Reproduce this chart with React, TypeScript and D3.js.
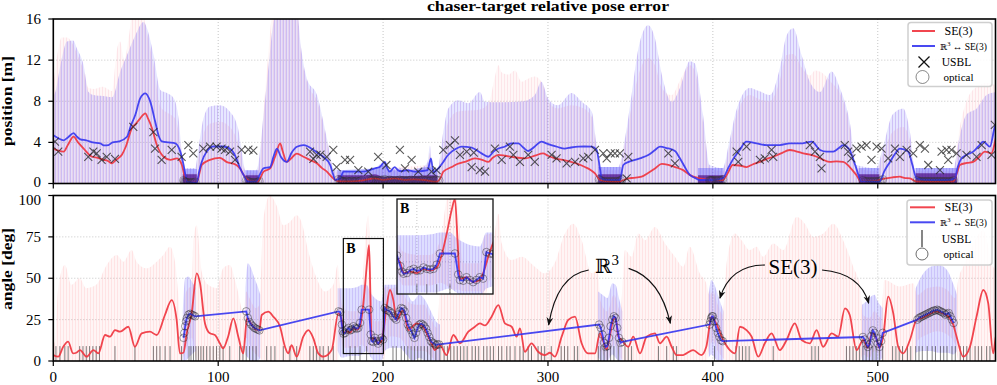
import React from "react";
import * as d3 from "d3";

type P2 = [number, number];
type P3 = [number, number, number];

// ---------- position panel [m] ----------
const posRedLine: P2[] = [
  [0, 3.4], [3, 3.2], [6.3, 3.1], [9, 3.8], [12.3, 4.55], [15, 4.0], [18.4, 3.4], [23.5, 2.6], [27, 2.5], [30.5, 2.3],
  [33, 2.2], [35.6, 1.96], [38, 2.3], [41.6, 2.8], [44, 3.6], [47.7, 5.4], [50, 5.8], [52.7, 6.34], [55.8, 6.83], [57.5, 6.3],
  [59.8, 5.4], [62.8, 3.74], [66.9, 2.6], [71, 2.3], [75, 2.45], [78, 1.8], [79.5, 0.8], [81, 0.2], [87, 0.15], [88.5, 0.9],
  [90, 1.8], [95, 2.3], [101, 2.5], [105, 2.1], [111, 1.8], [113.5, 1.4], [115.4, 0.83], [119.4, 0.25], [124, 0.2], [127.5, 1.15],
  [131.5, 1.47], [134.5, 2.6], [137.6, 3.9], [139, 3.2], [141.6, 2.1], [144, 2.4], [147.7, 2.9], [151.7, 2.6], [155.5, 2.3], [159.8, 1.96],
  [163, 1.5], [165.9, 1.15], [168.5, 0.7], [171, 0.34], [174, 0.2], [180, 0.2], [188, 0.3], [195, 0.5], [200, 0.35], [207, 0.5],
  [213, 0.35], [219, 0.4], [225, 0.34], [232.5, 0.18], [235, 0.6], [236.5, 1.15], [241.6, 1.6], [245, 1.9], [249.6, 2.1], [255.7, 2.45],
  [260, 2.3], [263.8, 2.1], [266.5, 2.5], [269.9, 2.78], [274, 2.7], [278, 2.6], [286, 2.45], [292, 2.7], [297, 2.93], [300, 2.7],
  [304.2, 2.45], [309, 2.3], [314, 2.1], [318, 1.9], [322.4, 1.6], [326, 1.3], [328.5, 0.98], [331.5, 0.34], [336, 0.2], [342.6, 0.18],
  [348.7, 0.5], [352, 0.55], [356.8, 0.66], [360.5, 1.0], [364.9, 1.47], [369, 1.9], [373, 1.8], [377, 1.6], [382, 1.3], [386, 0.83],
  [392, 0.5], [398, 0.35], [406, 0.34], [409, 1.0], [412, 1.8], [416, 1.75], [420.4, 1.6], [424, 1.85], [428.5, 2.1], [432, 2.35],
  [436.6, 2.6], [441, 2.9], [446.7, 3.26], [450, 3.15], [454.8, 2.93], [459, 2.8], [463, 2.6], [467, 2.3], [471, 2.1], [475, 2.15],
  [479, 2.1], [483, 1.6], [487, 0.83], [490, 0.18], [495, 0.2], [499, 0.25], [502, 0.4], [505, 0.5], [509, 0.6], [513.4, 0.66],
  [516, 0.55], [519.5, 0.5], [523.5, 0.18], [535, 0.15], [545.8, 0.18], [548, 1.0], [549.8, 1.8], [554, 2.0], [557.9, 2.1], [561, 2.5],
  [565, 3.1], [569, 2.93], [571, 4.0], [572, 4.7],
];

const posBlueLine: P2[] = [
  [0, 4.7], [3, 4.4], [6.3, 4.2], [9, 4.5], [12.3, 4.9], [14, 4.6], [16.4, 4.3], [20, 4.2], [24, 4.0], [28.5, 3.9],
  [31, 3.7], [33.5, 3.74], [36, 4.0], [40, 4.1], [44.7, 4.55], [47, 5.6], [49.7, 6.66], [52.7, 8.28], [55.8, 8.77], [58.8, 7.96],
  [61.8, 6.0], [64, 4.6], [65.9, 4.1], [70, 4.0], [74, 3.9], [77, 3.1], [79, 1.8], [80.5, 0.5], [81, 0.18], [87, 0.1],
  [88.5, 1.2], [90, 2.1], [93, 3.1], [97, 3.6], [103, 3.6], [108, 3.26], [111, 2.45], [113, 1.6], [115.4, 0.83], [118, 0.2],
  [123, 0.2], [125, 0.8], [127.5, 1.47], [131.5, 1.6], [133.5, 2.6], [135.6, 3.4], [138, 2.6], [141.6, 2.1], [144.5, 3.0], [147.7, 3.58],
  [151.7, 3.74], [154.5, 3.6], [157.8, 3.26], [161, 2.9], [163.8, 2.6], [167.9, 1.8], [169.5, 1.0], [171, 0.34], [174, 0.5], [176, 1.15],
  [182, 1.15], [187, 1.15], [192, 1.3], [195, 1.47], [198, 1.6], [201, 2.1], [202.5, 1.5], [204, 1.15], [207, 1.6], [209, 1.3],
  [211, 1.2], [215, 1.3], [219, 1.15], [223, 1.2], [227, 1.3], [229, 2.45], [230.5, 1.1], [233, 1.4], [236.5, 2.1], [239, 2.7],
  [241.6, 3.1], [244.5, 3.4], [247.6, 3.58], [253.7, 3.5], [257, 3.2], [259.7, 2.93], [263.8, 2.6], [267, 3.1], [269.9, 3.4], [274, 3.6],
  [277.9, 3.9], [282, 3.9], [285, 3.5], [288, 3.16], [292, 3.6], [296, 4.07], [299, 3.9], [302, 3.74], [306, 3.55], [310, 3.4],
  [314, 3.5], [318.4, 3.58], [322, 3.6], [326.5, 3.58], [329.5, 3.26], [331.5, 1.47], [332.5, 0.5], [336, 0.35], [343.6, 0.34], [345.7, 1.8],
  [349, 2.1], [352.7, 2.3], [356.8, 2.5], [360.8, 2.78], [364.5, 3.2], [367.9, 3.58], [372, 3.45], [377, 3.16], [380, 2.45], [383, 1.6],
  [386, 0.83], [389, 0.55], [392, 0.34], [400, 0.34], [406, 0.5], [409, 1.4], [412, 2.3], [416, 3.2], [420.4, 4.07], [426.5, 3.9],
  [432.6, 3.74], [440.6, 3.74], [446.7, 3.9], [453, 3.9], [460, 4.07], [465, 3.26], [469, 3.1], [473, 3.1], [476, 3.4], [479, 3.74],
  [483, 3.26], [485, 2.4], [487, 1.47], [490, 0.18], [501, 0.18], [504, 1.2], [507.4, 2.1], [510.5, 2.9], [513.4, 3.4], [518.5, 3.1],
  [521, 1.8], [523.5, 0.5], [533.6, 0.34], [541.7, 0.34], [546.8, 0.5], [548.5, 1.6], [550.8, 2.45], [554, 2.8], [557.9, 3.1], [561, 3.6],
  [564, 4.07], [568, 3.58], [571, 5.5], [572, 5.8],
];

// upper edge of the uncertainty bars
const posRedEnv: P2[] = [
  [0, 9.5], [3, 13], [5, 14.2], [8.3, 14.2], [12, 13.5], [14.4, 12.6], [18.4, 11], [21.4, 9.3], [25, 9.2], [30, 9.4],
  [35.6, 9.0], [38.6, 13.0], [40.5, 13.8], [43, 12.0], [46, 14.5], [48, 16.5], [54, 16.5], [57, 14.5], [60.8, 11.5], [64.9, 7.5],
  [70, 6.8], [74, 6.3], [76, 5.0], [78, 2.5], [79, 1.0], [86, 1.0], [88, 2.5], [91, 4.8], [95, 5.8], [101, 6.0],
  [107, 5.5], [112, 4.0], [114.4, 2.5], [116.4, 1.0], [123, 1.0], [125, 2.0], [127.5, 7.0], [130.6, 13], [133, 16.5], [148, 16.5],
  [150, 13], [154, 9.8], [160, 8.0], [166, 4.0], [170, 1.2], [188, 1.0], [201, 1.5], [227, 1.8], [228.4, 3.0], [229.5, 1.0],
  [233, 1.0], [236.5, 3.5], [239.5, 6.0], [245.6, 7.0], [258.7, 7.2], [264, 7.8], [268, 10.5], [269.9, 11.5], [272, 10.8], [276, 10.6],
  [280, 11.0], [284, 9.9], [288, 10.2], [292, 10.4], [297, 9.6], [300, 8.0], [306, 7.3], [314, 7.6], [320.4, 7.4], [326.5, 6.5],
  [329.5, 3.2], [331.5, 1.3], [342.6, 1.3], [346.7, 4], [350.7, 7.5], [354.8, 10.5], [360.8, 12.2], [364.9, 11.5], [369, 9.3], [375, 8.6],
  [380, 10.0], [386, 11.5], [389, 11], [394, 6.0], [398, 1.5], [406, 1.2], [410, 3.5], [414, 6.5], [422.4, 8.6], [428, 8.2],
  [434.6, 8.0], [440.6, 10], [444.7, 12.5], [448.7, 12.6], [453.8, 11.3], [458.8, 10.5], [462, 11.0], [466, 10.8], [472, 9.8], [477, 8.8],
  [483, 5.5], [487, 1.5], [499, 1.2], [503, 2.8], [509, 5.0], [515.4, 5.5], [519.5, 4.2], [522.5, 1.2], [545.8, 1.2], [549.8, 5.5],
  [553.8, 8.0], [560, 9.4], [566, 9.8], [572, 9.5],
];

const posBlueEnv: P2[] = [
  [0, 8.5], [1.2, 8.9], [4.3, 11.5], [8.3, 13.8], [12, 13.9], [14.4, 13.1], [18.4, 11.5], [21.4, 8.9], [24.5, 8.6], [30, 8.5],
  [35.6, 8.4], [40.6, 10.9], [44.7, 12.5], [49.7, 14.4], [54.8, 15.7], [56.8, 15.1], [60.8, 12.5], [64.9, 9.1], [68.9, 8.8], [73, 8.3],
  [76, 6.3], [78, 2.8], [79, 1.5], [86, 1.5], [88, 3.4], [91, 6.3], [95, 7.5], [101, 7.6], [107, 7], [112, 5.4],
  [114.4, 3.1], [116.4, 1.3], [123, 1.3], [124.5, 2.1], [127.5, 6.7], [130.6, 11.5], [133.6, 15.7], [136, 16.5], [148, 16.5], [149.8, 13.8],
  [153.8, 10.2], [159.9, 8.6], [165.9, 4.4], [170, 1.5], [174, 1.3], [188, 1.2], [195, 1.5], [201, 2.1], [204, 1.3], [210, 1.5],
  [219, 1.2], [227, 2.1], [228.4, 3.7], [229.5, 1.3], [233, 1.3], [236.5, 5.0], [239.5, 7.3], [245.6, 8.1], [251.7, 7.8], [258.7, 8.9],
  [261.8, 7.96], [270, 7.9], [285, 8.0], [292, 8.6], [296, 9.9], [300, 8.3], [306, 7.6], [314.3, 8.8], [320.4, 7.96], [326.5, 7],
  [329.5, 3.74], [331.5, 1.6], [342.6, 1.6], [346.7, 4.4], [350.7, 8.6], [354.8, 13.1], [360.8, 15.4], [364.9, 14.1], [369, 10.6], [375, 7.96],
  [380, 9.3], [386, 11.9], [389, 11.7], [394, 6.7], [398, 1.8], [406, 1.5], [410, 4.1], [414, 7], [422.4, 9.3], [428, 9.0],
  [434.6, 8.6], [440.6, 11.2], [444.7, 14.4], [448.7, 15.1], [453.8, 12.5], [458.8, 9.9], [465, 8.9], [472, 10.9], [477, 9.3], [483, 6],
  [487, 1.8], [499, 1.5], [503, 3.4], [509, 6.7], [515.4, 7.3], [519.5, 5], [522.5, 1.5], [545.8, 1.5], [549.8, 4.7], [553.8, 6.7],
  [560, 7.3], [566, 8.6], [572, 8.9],
];

// optical stretches in the position panel: [t, inner, outer]
const posOpticalBand: P3[][] = [
  [[78.5, 0.9, 1.4], [87, 0.9, 1.4]],
  [[116.5, 0.8, 1.3], [124.5, 0.8, 1.3]],
  [[172.5, 0.8, 1.3], [189, 0.8, 1.4], [195, 0.9, 1.5], [201, 0.6, 1.9], [204, 0.7, 1.3], [215, 0.7, 1.3], [227, 0.8, 1.6], [233, 0.8, 1.3]],
  [[330.5, 0.9, 1.6], [344.5, 0.9, 1.6]],
  [[391, 0.8, 1.5], [406.5, 0.8, 1.5]],
  [[488.5, 0.9, 1.5], [501, 0.9, 1.5]],
  [[523, 1.0, 1.5], [548, 1.0, 1.5]],
];

const posUsbl: P2[] = [
  [1, 4.07], [3, 3.1], [21.2, 2.6], [24.3, 3.1], [26.3, 2.93], [29.3, 2.3], [32.4, 2.6], [37.4, 2.4], [48.5, 5.5], [60.7, 5.0],
  [61.7, 3.4], [65.7, 2.3], [71.8, 3.26], [77.8, 2.6], [81.9, 3.74], [84.9, 2.93], [91, 3.4], [95, 3.58], [99, 3.58], [102, 3.4],
  [104.1, 3.26], [107.2, 3.1], [110.2, 2.3], [114.2, 3.26], [118.3, 3.3], [121.3, 3.2], [155.7, 3.1], [157.7, 2.4], [159.7, 2.78], [162, 2.8],
  [165.8, 2.6], [169.8, 3.26], [171.8, 1.6], [176.9, 2.3], [180, 2.3], [185, 1.3], [191, 1.15], [197, 2.6], [202, 1.8], [210.2, 3.26],
  [213.3, 1.47], [217.3, 2.3], [221.3, 1.15], [229.4, 1.15], [232.5, 1.3], [236.5, 3.26], [240.5, 3.74], [243.6, 4.2], [246.6, 2.78], [250.7, 3.1],
  [253.7, 1.6], [255, 3.0], [258.7, 1.3], [261.8, 1.15], [267.8, 3.4], [271.9, 2.3], [276.9, 3.58], [279, 2.78], [283, 2.1], [288, 2.78],
  [292, 2.1], [302.2, 2.78], [305.2, 2.45], [311.3, 1.96], [316.4, 2.1], [321.4, 2.45], [324.4, 2.6], [328.5, 3.26], [333.5, 2.93], [335.6, 2.45],
  [338, 2.93], [340.6, 2.93], [343.6, 2.93], [347.7, 0.5], [348.7, 2.6], [373, 2.93], [377, 1.96], [414.4, 3.1], [415.4, 2.1], [420.4, 3.58],
  [428.5, 2.3], [431.5, 2.45], [435.6, 3.26], [436.6, 2.6], [458.8, 3.74], [461.9, 3.1], [464.9, 2.6], [465.9, 1.47], [480, 3.74], [482, 3.1],
  [484, 2.45], [487.1, 3.4], [490.2, 3.58], [493.2, 3.74], [496.2, 2.3], [499.3, 3.58], [502.3, 3.4], [506.3, 2.45], [510.4, 3.4], [513.4, 2.6],
  [517.5, 3.26], [521.5, 2.93], [525.5, 3.74], [528.6, 3.4], [530.6, 1.8], [537.7, 1.3], [538.7, 3.1], [541.7, 3.26], [542.7, 2.3], [544.7, 3.26],
  [547.8, 2.93], [553.8, 2.78], [559.9, 2.6], [563, 3.74], [569, 2.78], [571, 5.7],
];

// ---------- angle panel [deg] ----------
const angRedLine: P2[] = [
  [0, 3.6], [3, 2.6], [6, 8.6], [9, 11.7], [12, 4.6], [14, 5], [16.2, 6.6], [20.2, 2.6], [24.3, 6.6], [27.3, 4.6],
  [31.4, 15.7], [34.4, 14.7], [37.4, 18.7], [40.4, 17.7], [45.5, 20.7], [49.5, 8.6], [53.6, 16.7], [58.6, 17.7], [62.7, 15.7], [67.7, 27.8],
  [71.8, 36.8], [74.8, 24.8], [76.8, 4.6], [78.9, 5], [80.9, 16.7], [83.9, 28.8], [87, 53], [89, 46.9], [92, 22.7], [95, 16.7],
  [98, 15.7], [101, 10.7], [103, 7.6], [106, 14.7], [109.2, 25.8], [112.2, 14.7], [115.2, 4.6], [117.5, 26], [119, 24], [121, 21],
  [123, 19], [125, 19], [126.4, 27.8], [130.4, 29.8], [133.4, 26.8], [137.5, 20.7], [140.5, 8.6], [142.5, 4.6], [144.5, 9.6], [147.6, 2.6],
  [151.6, 14.7], [154.7, 18.7], [157.7, 13.7], [160.7, 4.6], [163.8, 2.6], [168.8, 6.6], [172.9, 28.8], [174.9, 24.8], [176, 17], [178, 18],
  [180, 17], [182, 20], [184, 19], [186, 21], [187.5, 30], [189, 45], [190.5, 62], [191.5, 70], [192.3, 40], [193, 12.7],
  [195, 14], [197, 10.7], [199, 12], [200, 16.7], [202, 31.8], [204.2, 42.9], [206.2, 36.8], [208.2, 24.8], [212.2, 30.8], [215.3, 18.7],
  [220.3, 22.7], [224.4, 20.7], [226.4, 16.7], [229.4, 10.7], [231.4, 6.6], [234.5, 9.6], [238.5, 3.6], [242.6, 15.7], [246.6, 10.7], [251.7, 17.7],
  [255.7, 20.7], [258.7, 22.7], [261.8, 21.5], [265.8, 26.8], [269.9, 33.8], [273.9, 22.7], [278, 20.7], [281, 14.7], [283, 19.7], [286, 5.6],
  [290, 10.7], [294, 5.6], [298, 3.6], [301.2, 5.0], [304.2, 2.6], [308.3, 14.7], [312.3, 24.8], [316.4, 26.8], [320.4, 10.7], [324.4, 4.6],
  [328.5, 4.6], [331.5, 16.7], [333.5, 12], [335.5, 7], [337.5, 15], [339.6, 25], [341, 26], [342.6, 15], [344.6, 12.7], [348.7, 8.6],
  [351.7, 14.7], [355.8, 4.6], [359.8, 14.7], [364.9, 16.7], [367.9, 10.7], [372, 14.7], [375, 8.6], [378, 3.6], [382, 3.6], [384, 4.6],
  [388, 6.6], [393, 3.6], [396, 8.6], [399.2, 26.8], [402, 22.7], [406.3, 12.7], [410.3, 6.6], [413.4, 4.6], [416.4, 20.7], [420.4, 18.7],
  [423.5, 14.7], [427.5, 2.6], [431.5, 10.7], [435.6, 16.7], [440.6, 6.6], [444.7, 12.7], [449.7, 22.7], [453.8, 12.7], [458.8, 10.7], [462.9, 18.7],
  [466.9, 8.6], [472, 16.7], [476, 14.7], [480.1, 31.8], [483, 27.8], [487.1, 6.6], [491.2, 12.7], [494, 8], [496.5, 17], [499, 14],
  [501, 8], [503.3, 14.7], [506.3, 38.9], [509.4, 28.8], [512.4, 8.6], [515.4, 4.6], [519.5, 12.7], [523.5, 24.8], [527, 26], [531, 28],
  [535, 30], [539, 29], [542, 27.5], [545.8, 22], [547.8, 14.7], [551.8, 2.6], [555.9, 8.6], [559.9, 26.8], [564, 42.9], [567, 34.8],
  [570, 4.6], [571.6, 14.7], [572, 16],
];

// SE(3) angle uncertainty: [t, low, high]
const angRedBand: P3[] = [
  [0, 0, 10], [1, 0, 12], [3, 0, 44], [7, 0, 58], [11, 0, 46], [16, 0, 50], [20, 0, 44], [26, 0, 46], [32.4, 0, 58], [38.4, 0, 64],
  [42.5, 0, 60], [47.5, 0, 67], [50.5, 0, 60], [56.6, 0, 56], [62.7, 0, 60], [66.7, 0, 64], [70.7, 0, 69], [73.8, 0, 60], [75.8, 0, 40], [77.9, 0, 12],
  [79, 3, 25], [80, 6, 40], [82, 12, 44], [84, 14, 45], [85, 10, 74], [87, 0, 82], [90, 0, 54], [94, 0, 46], [99, 0, 44], [103, 0, 56],
  [107, 0, 58], [111, 0, 46], [115.3, 0, 30], [117, 14, 42], [119, 10, 38], [121, 6, 34], [123, 4, 32], [125, 2, 34], [127.4, 0, 86], [131.4, 0, 100],
  [135.4, 0, 94], [139.5, 0, 82], [143.5, 0, 84], [147.6, 0, 88], [150.5, 0, 84], [154.7, 0, 66], [159.7, 0, 50], [164.8, 0, 42], [169.8, 0, 46], [172.5, 0, 58],
  [174, 14, 42], [176, 8, 32], [180, 8, 30], [184, 8, 30], [187, 10, 40], [189, 8, 70], [191, 5, 88], [192.5, 5, 60], [194, 4, 24], [199, 4, 24],
  [200.5, 0, 44], [202, 12, 45], [205, 15, 44], [210, 14, 45], [215, 8, 36], [220, 6, 34], [225, 6, 34], [228, 4, 28], [233, 0, 20], [235.5, 0, 59],
  [241.6, 0, 53], [249.6, 0, 61], [257.7, 0, 53], [265.8, 0, 63], [269.9, 0, 89], [272, 0, 71], [278, 0, 61], [284, 0, 63], [292, 0, 57], [298, 0, 53],
  [304, 0, 59], [310.3, 0, 77], [315.3, 0, 83], [320.4, 0, 73], [326.5, 0, 53], [330, 0, 55], [332, 6, 36], [336, 0, 30], [340, 10, 40], [344, 2, 30],
  [346.7, 0, 67], [350.7, 0, 63], [354.8, 0, 77], [358.8, 0, 73], [364.9, 0, 81], [371, 0, 71], [377, 0, 63], [382, 0, 57], [386, 0, 69], [392, 0, 53],
  [396, 0, 47], [398, 8, 40], [400, 12, 42], [403, 6, 34], [406, 2, 28], [408.3, 0, 59], [413.4, 0, 77], [417.4, 0, 73], [422.4, 0, 67], [426.5, 0, 69],
  [430.5, 0, 63], [436.6, 0, 71], [442.7, 0, 67], [450.8, 0, 87], [455.8, 0, 83], [460.9, 0, 75], [466.9, 0, 77], [473, 0, 83], [479, 0, 73], [485.1, 0, 57],
  [489.2, 0, 45], [491, 4, 28], [495, 2, 26], [498, 6, 30], [502, 2, 26], [504, 0, 49], [513.4, 0, 45], [521.5, 0, 47], [524, 12, 40], [530, 16, 44],
  [536, 18, 45], [542, 16, 43], [547, 10, 38], [549, 0, 50], [551.8, 0, 57], [557.9, 0, 71], [564, 0, 79], [570, 0, 57], [572, 0, 55],
];

// R3 <-> SE(3) angle uncertainty, only where optical fixes exist
const angBlueBand: P3[][] = [
  [[78.5, 0, 30], [80, 0, 50], [82, 2, 51], [84, 4, 48], [86.5, 6, 44]],
  [[116.5, 4, 44], [118, 2, 59], [120, 0, 56], [122, 0, 50], [124, 0, 45], [125.5, 2, 40]],
  [[172.5, 6, 44], [175, 2, 44], [180, 3, 44], [185, 3, 45], [187, 4, 46], [190, 6, 46], [192, 3, 42], [195, 0, 38], [199, 0, 36], [201, 6, 46],
   [205, 8, 46], [210, 8, 46], [214, 4, 42], [218, 0, 36], [222, 2, 40], [226, 0, 36], [229, 0, 30], [232, 0, 24], [234.5, 0, 22]],
  [[330.5, 2, 42], [333, 0, 40], [336, 0, 38], [339, 4, 47], [341, 2, 46], [343, 0, 38], [345, 0, 30]],
  [[397.5, 2, 40], [399, 4, 49], [401, 2, 46], [403, 0, 40], [405, 0, 34], [406.5, 0, 30]],
  [[490.5, 0, 34], [493, 0, 36], [496, 0, 39], [498, 0, 40], [500, 0, 36], [503, 2, 32]],
  [[523, 5, 44], [527, 6, 52], [532, 6, 57], [537, 5, 58], [542, 5, 55], [546, 4, 46], [548, 6, 40]],
];

const angUsblT: number[] = [
  1.6, 4, 7, 9, 16, 18, 20, 22, 24, 26, 28, 37.4, 49.5, 60.7, 62.7, 64.7, 67.8, 70.8, 77.8, 82.3,
  83.5, 85, 86.5, 88, 89.5, 91, 93, 95, 97, 99, 101, 103, 107, 113, 115, 117, 119, 121, 123, 129.4,
  132, 134.4, 139.5, 143.5, 147.6, 155.6, 157.7, 159.7, 161.7, 163.7, 166.8, 169.8, 180, 183, 186, 190, 206, 208, 211, 213,
  215, 217, 219, 221, 223, 225, 227, 229, 232, 234.5, 237, 239, 241, 243, 245, 247, 249, 251, 254, 256,
  258, 261, 263, 265, 267, 270, 272, 275, 277, 280, 283, 285, 288, 290, 294, 296, 298, 302, 308, 310,
  312, 316, 318, 330.5, 332, 334, 336, 338, 340, 342.6, 346.7, 348.7, 350.7, 367, 372, 376, 378, 401, 414, 416,
  418, 420, 422, 436.6, 460, 462, 464, 481, 483, 485, 487, 489, 491, 493, 495, 497, 499, 501, 503, 509,
  511, 513, 515, 518, 520, 523, 525, 527, 530, 533, 535, 538, 540, 542, 545, 547, 550, 552, 554, 556,
  559, 561, 563, 566, 568,
];

// optical fixes: [t, position error, angle error]
const optical: P3[] = [
  [79, 0.3, 14], [79.5, 0.2, 17], [80, 0.15, 21], [80.5, 0.15, 24], [81, 0.1, 26], [82, 0.1, 28], [83, 0.1, 28.5], [84, 0.1, 28], [85, 0.1, 27.5], [86, 0.15, 27],
  [117, 0.3, 30], [118, 0.2, 26], [119, 0.15, 23.5], [120, 0.1, 22], [121, 0.1, 21], [122, 0.1, 20], [123, 0.1, 19.5], [124, 0.15, 19], [125, 0.2, 18.5],
  [173, 0.4, 30], [174, 0.3, 29.5], [175, 0.2, 22], [175.5, 0.2, 18], [176, 0.2, 16.5], [177, 0.2, 17], [178, 0.25, 19], [179, 0.2, 20], [180, 0.2, 18.5], [181, 0.25, 19],
  [182, 0.2, 21], [183, 0.2, 20], [184, 0.25, 19.5], [185, 0.2, 20], [186, 0.25, 23], [187, 0.3, 31], [191.5, 0.35, 31], [192.5, 0.3, 16], [193, 0.3, 12], [194, 0.35, 11.5],
  [195, 0.3, 14], [196, 0.25, 12], [197, 0.3, 10.5], [198, 0.3, 12], [199, 0.35, 14], [200, 0.3, 13], [201, 0.4, 32], [202, 0.3, 31], [203, 0.3, 30.5], [204, 0.35, 30],
  [205, 0.3, 29], [206, 0.3, 27], [207, 0.25, 26], [208, 0.3, 25], [209, 0.3, 28], [210, 0.35, 30], [211, 0.3, 32], [212, 0.3, 31.5], [213, 0.3, 30], [214, 0.25, 26],
  [215, 0.3, 22], [216, 0.3, 20], [217, 0.35, 18.5], [218, 0.3, 16], [219, 0.3, 14], [220, 0.3, 17], [221, 0.25, 20], [222, 0.3, 22], [223, 0.3, 22.5], [224, 0.35, 22],
  [225, 0.3, 21], [226, 0.3, 19.5], [227, 0.3, 17], [228, 0.25, 14.5], [229, 0.3, 12], [230, 0.3, 11], [231, 0.3, 10.5], [232, 0.35, 9.5], [233, 0.3, 10], [234, 0.3, 10],
  [331, 0.4, 22], [332, 0.3, 20], [333, 0.2, 16], [334, 0.2, 11], [335, 0.2, 8.5], [336, 0.2, 9], [337, 0.2, 14], [338, 0.2, 21], [339, 0.2, 25], [340, 0.2, 27],
  [341, 0.2, 26], [342, 0.2, 20], [343, 0.2, 14], [344, 0.3, 11], [345, 0.4, 11.5],
  [398, 0.3, 22], [398.5, 0.3, 24], [399, 0.3, 26], [399.5, 0.3, 27], [400, 0.3, 27], [401, 0.3, 24], [402, 0.3, 20], [403, 0.3, 17], [404, 0.3, 14.5], [405, 0.3, 12.5], [406, 0.4, 12],
  [491, 0.3, 14.5], [492, 0.2, 13], [493, 0.2, 10.5], [494, 0.2, 8.5], [495, 0.2, 10], [496, 0.2, 15], [497, 0.2, 18.5], [498, 0.2, 17], [499, 0.2, 14], [500, 0.2, 10.5],
  [501, 0.2, 8.5], [502, 0.3, 12], [503, 0.4, 17],
  [524, 0.3, 25], [525, 0.2, 26], [526, 0.2, 26.5], [527, 0.2, 27], [528, 0.2, 27.5], [529, 0.2, 28], [530, 0.2, 28.5], [531, 0.2, 29], [532, 0.2, 29.5], [533, 0.2, 30],
  [534, 0.2, 30.5], [535, 0.2, 30.5], [536, 0.2, 31], [537, 0.2, 30.5], [538, 0.2, 30], [539, 0.2, 29.5], [540, 0.2, 29], [541, 0.2, 28], [542, 0.2, 28.5], [543, 0.2, 29],
  [544, 0.2, 27], [545, 0.2, 25], [546, 0.3, 23],
];

const xTicks = [0, 100, 200, 300, 400, 500];
const posTicks = [0, 4, 8, 12, 16];
const angTicks = [0, 25, 50, 75, 100];
const insetGridX = [180, 190];
const insetGridY = [25, 50];

// annotation arrows in data coords: start, control, end
const arrowsR3 = [
  [[324.7, 55], [305.5, 52], [300.4, 21.8]],
  [[348.9, 56], [368.1, 50], [374.2, 22.8]],
];
const arrowsSE3 = [
  [[431.6, 58], [410.5, 58], [404.3, 38]],
  [[466.2, 55], [489.4, 53], [494.5, 34.9]],
];
const boxB = { t0: 175.9, t1: 200.2, a0: 4.5, a1: 74 };

const SERIF = "'Liberation Serif', 'DejaVu Serif', serif";
const RED = "#f0323c";
const BLUE = "#3535f0";

// panel frames
const L = 53.3, R = 995.5;
const PT = 19, PB = 183.5;   // position panel
const AT = 195.5, AB = 361;  // angle panel
const IL = 397, IR = 493, IT = 199, IB = 294; // inset

const x = d3.scaleLinear().domain([0, 571.4]).range([L, R]);
const yPos = d3.scaleLinear().domain([0, 16]).range([PB, PT]);
const yAng = d3.scaleLinear().domain([0, 100]).range([AB, AT]);
const xIn = d3.scaleLinear().domain([174, 203]).range([IL, IR]);
const yIn = d3.scaleLinear().domain([2, 70]).range([IB, IT]);

type S = d3.ScaleLinear<number, number>;

const line = (sx: S, sy: S, curve: d3.CurveFactory = d3.curveMonotoneX) =>
  d3.line<number[]>().x((d) => sx(d[0])).y((d) => sy(d[1])).curve(curve);
const env = (sx: S, sy: S) =>
  d3.area<number[]>().x((d) => sx(d[0])).y0(sy(0)).y1((d) => sy(d[1])).curve(d3.curveMonotoneX);
const band = (sx: S, sy: S) =>
  d3.area<number[]>().x((d) => sx(d[0])).y0((d) => sy(d[1])).y1((d) => sy(d[2])).curve(d3.curveMonotoneX);

const xPath = (cx: number, cy: number, s: number) =>
  `M${cx - s},${cy - s}L${cx + s},${cy + s}M${cx - s},${cy + s}L${cx + s},${cy - s}`;

function AngleLayer({ sx, sy }: { sx: S; sy: S }) {
  const usblTop = 9;
  return (
    <g>
      <path d={band(sx, sy)(angRedBand) || ""} fill="url(#stripePink)" />
      {angBlueBand.map((seg, i) => (
        <path key={i} d={band(sx, sy)(seg) || ""} fill="url(#stripeBlueA)" />
      ))}
      {angUsblT.map((t, i) => (
        <line key={i} x1={sx(t)} x2={sx(t)} y1={sy(0)} y2={sy(usblTop)} stroke="#333" strokeOpacity={0.7} strokeWidth={0.9} />
      ))}
      <path d={line(sx, sy)(angRedLine) || ""} fill="none" stroke={RED} strokeWidth={1.8} strokeOpacity={0.9} />
      <path d={line(sx, sy, d3.curveLinear)(optical.map((d) => [d[0], d[2]])) || ""} fill="none" stroke={BLUE} strokeWidth={1.8} strokeOpacity={0.9} />
      {optical.map((d, i) => (
        <circle key={i} cx={sx(d[0])} cy={sy(d[2])} r={3.8} fill="none" stroke="#222" strokeOpacity={0.55} strokeWidth={0.8} />
      ))}
    </g>
  );
}

function Arrow({ pts }: { pts: number[][] }) {
  const [s, c, e] = pts;
  return (
    <path
      d={`M${x(s[0])},${yAng(s[1])}Q${x(c[0])},${yAng(c[1])} ${x(e[0])},${yAng(e[1])}`}
      fill="none" stroke="#111" strokeWidth={1.2} markerEnd="url(#arrowHead)"
    />
  );
}

export default function App() {
  const grid = { stroke: "#b8b8b8", strokeWidth: 0.8, strokeDasharray: "1,2" };
  // label nudges seen in the reference: top "0" sits a bit high, bottom "100" a bit low
  const posLabelDy = (v: number) => (v === 0 ? -1.5 : 0);
  const angLabelDy = (v: number) => (v === 100 ? 4.5 : 0);
  return (
    <svg width={997} height={385} style={{ position: "absolute", left: 0, top: 0, background: "#fff" }} fontFamily={SERIF}>
      <defs>
        <pattern id="stripeRed" width={3} height={4} patternUnits="userSpaceOnUse">
          <rect width={3} height={4} fill="rgb(255,90,90)" fillOpacity={0.05} />
          <rect width={1} height={4} fill="rgb(235,80,120)" fillOpacity={0.1} />
        </pattern>
        <pattern id="stripePink" width={3} height={4} patternUnits="userSpaceOnUse">
          <rect width={3} height={4} fill="rgb(255,90,90)" fillOpacity={0.06} />
          <rect width={1} height={4} fill="rgb(255,100,110)" fillOpacity={0.12} />
        </pattern>
        <pattern id="stripeBlue" width={3} height={4} patternUnits="userSpaceOnUse">
          <rect width={3} height={4} fill="rgb(95,95,255)" fillOpacity={0.15} />
          <rect x={1} width={1} height={4} fill="rgb(120,60,220)" fillOpacity={0.22} />
        </pattern>
        <pattern id="stripeBlueA" width={3} height={4} patternUnits="userSpaceOnUse">
          <rect width={3} height={4} fill="rgb(90,90,255)" fillOpacity={0.2} />
          <rect x={1} width={1} height={4} fill="rgb(90,40,220)" fillOpacity={0.15} />
        </pattern>
        <clipPath id="clipPos"><rect x={L} y={PT} width={R - L} height={PB - PT} /></clipPath>
        <clipPath id="clipAng"><rect x={L} y={AT} width={R - L} height={AB - AT} /></clipPath>
        <clipPath id="clipIn"><rect x={IL} y={IT} width={IR - IL} height={IB - IT} /></clipPath>
        <marker id="arrowHead" viewBox="0 0 10 10" refX={9} refY={5} markerWidth={7} markerHeight={7} orient="auto">
          <path d="M0,1L10,5L0,9L3,5Z" fill="#111" />
        </marker>
      </defs>

      {/* title */}
      <text x={548} y={10.5} textAnchor="middle" fontWeight="bold" fontSize={14} textLength={242} lengthAdjust="spacingAndGlyphs">
        chaser-target relative pose error
      </text>

      {/* ---------- position panel ---------- */}
      {posTicks.slice(1, -1).map((v) => (
        <line key={v} x1={L} x2={R} y1={yPos(v)} y2={yPos(v)} {...grid} />
      ))}
      {xTicks.slice(1).map((t) => (
        <line key={t} x1={x(t)} x2={x(t)} y1={PT} y2={PB} {...grid} />
      ))}
      <g clipPath="url(#clipPos)">
        <path d={env(x, yPos)(posRedEnv) || ""} fill="url(#stripeRed)" />
        <path d={env(x, yPos)(posBlueEnv) || ""} fill="url(#stripeBlue)" />
        {posOpticalBand.map((seg, i) => (
          <g key={i}>
            <path d={env(x, yPos)(seg.map((d) => [d[0], d[2]])) || ""} fill="rgb(70,70,255)" fillOpacity={0.35} />
            <path d={env(x, yPos)(seg.map((d) => [d[0], d[1]])) || ""} fill="rgb(70,0,120)" fillOpacity={0.65} />
          </g>
        ))}
        <path d={line(x, yPos)(posRedLine) || ""} fill="none" stroke={RED} strokeWidth={1.8} strokeOpacity={0.9} />
        <path d={line(x, yPos)(posBlueLine) || ""} fill="none" stroke={BLUE} strokeWidth={1.8} strokeOpacity={0.9} />
        {optical.map((d, i) => (
          <circle key={i} cx={x(d[0])} cy={yPos(d[1])} r={4} fill="none" stroke="#333" strokeOpacity={0.45} strokeWidth={0.8} />
        ))}
        {posUsbl.map((d, i) => (
          <path key={i} d={xPath(x(d[0]), yPos(d[1]), 4)} stroke="#222" strokeOpacity={0.75} strokeWidth={1.1} fill="none" />
        ))}
      </g>
      <rect x={L} y={PT} width={R - L} height={PB - PT} fill="none" stroke="#000" strokeWidth={1.6} />
      {posTicks.map((v) => (
        <g key={v}>
          <line x1={L - 5} x2={L} y1={yPos(v)} y2={yPos(v)} stroke="#000" strokeWidth={1.2} />
          <text x={41} y={yPos(v) + 5 + posLabelDy(v)} textAnchor="end" fontSize={15}>{v}</text>
        </g>
      ))}
      {xTicks.map((t) => (
        <line key={t} x1={x(t)} x2={x(t)} y1={PB} y2={PB + 5} stroke="#000" strokeWidth={1.2} />
      ))}
      <text transform={`translate(12,101) rotate(-90)`} textAnchor="middle" fontWeight="bold" fontSize={14} textLength={90} lengthAdjust="spacingAndGlyphs">
        position [m]
      </text>

      {/* legend (position) */}
      <g>
        <rect x={908} y={22.5} width={84} height={64} rx={3} fill="#fff" fillOpacity={0.85} stroke="#cfcfcf" strokeWidth={1.5} />
        <line x1={912} x2={935} y1={31} y2={31} stroke={RED} strokeWidth={2} strokeOpacity={0.9} />
        <text x={958.5} y={35} textAnchor="middle" fontSize={12}>SE(3)</text>
        <line x1={912} x2={935} y1={46} y2={46} stroke={BLUE} strokeWidth={2} strokeOpacity={0.9} />
        <text x={963.5} y={49.5} textAnchor="middle" fontSize={9.5}>
          <tspan fontFamily="'DejaVu Serif', serif" fontSize={8.5}>ℝ</tspan>
          <tspan fontSize={6.5} dy={-3.5}>3</tspan>
          <tspan dy={3.5}> ↔ SE(3)</tspan>
        </text>
        <path d={xPath(924, 62, 5.5)} stroke="#111" strokeWidth={1.3} fill="none" />
        <text x={956.5} y={66} textAnchor="middle" fontSize={11.5}>USBL</text>
        <circle cx={922.5} cy={77} r={6.5} fill="none" stroke="#444" strokeOpacity={0.7} strokeWidth={0.9} />
        <text x={958.5} y={80.5} textAnchor="middle" fontSize={11}>optical</text>
      </g>

      {/* ---------- angle panel ---------- */}
      {angTicks.slice(1, -1).map((v) => (
        <line key={v} x1={L} x2={R} y1={yAng(v)} y2={yAng(v)} {...grid} />
      ))}
      {xTicks.slice(1).map((t) => (
        <line key={t} x1={x(t)} x2={x(t)} y1={AT} y2={AB} {...grid} />
      ))}
      <g clipPath="url(#clipAng)">
        <AngleLayer sx={x} sy={yAng} />
      </g>

      {/* box B */}
      <rect x={x(boxB.t0)} y={yAng(boxB.a1)} width={x(boxB.t1) - x(boxB.t0)} height={yAng(boxB.a0) - yAng(boxB.a1)} fill="none" stroke="#111" strokeWidth={1.2} />
      <text x={x(boxB.t0) + 3} y={yAng(boxB.a1) + 14} fontWeight="bold" fontSize={14}>B</text>

      {/* inset */}
      <rect x={IL} y={IT} width={IR - IL} height={IB - IT} fill="#fff" />
      {insetGridY.map((v) => (
        <line key={v} x1={IL} x2={IR} y1={yIn(v)} y2={yIn(v)} {...grid} />
      ))}
      {insetGridX.map((t) => (
        <line key={t} x1={xIn(t)} x2={xIn(t)} y1={IT} y2={IB} {...grid} />
      ))}
      <g clipPath="url(#clipIn)">
        <AngleLayer sx={xIn} sy={yIn} />
      </g>
      <rect x={IL} y={IT} width={IR - IL} height={IB - IT} fill="none" stroke="#111" strokeWidth={1.3} />
      <text x={IL + 3} y={IT + 14} fontWeight="bold" fontSize={14}>B</text>

      {/* annotations */}
      {arrowsR3.map((a, i) => <Arrow key={i} pts={a} />)}
      {arrowsSE3.map((a, i) => <Arrow key={i} pts={a} />)}
      <text x={x(335.8)} y={yAng(58) + 8} textAnchor="middle" fontSize={22}>
        <tspan fontFamily="'DejaVu Serif', serif" fontSize={20}>ℝ</tspan>
        <tspan fontSize={15} dy={-8}>3</tspan>
      </text>
      <text x={x(448.6)} y={yAng(56.8) + 7.5} textAnchor="middle" fontSize={21}>SE(3)</text>

      <rect x={L} y={AT} width={R - L} height={AB - AT} fill="none" stroke="#000" strokeWidth={1.6} />
      {angTicks.map((v) => (
        <g key={v}>
          <line x1={L - 5} x2={L} y1={yAng(v)} y2={yAng(v)} stroke="#000" strokeWidth={1.2} />
          <text x={41} y={yAng(v) + 5 + angLabelDy(v)} textAnchor="end" fontSize={15}>{v}</text>
        </g>
      ))}
      {xTicks.map((t) => (
        <g key={t}>
          <line x1={x(t)} x2={x(t)} y1={AB} y2={AB + 5} stroke="#000" strokeWidth={1.2} />
          <text x={x(t)} y={382} textAnchor="middle" fontSize={15}>{t}</text>
        </g>
      ))}
      <text transform={`translate(12,269) rotate(-90)`} textAnchor="middle" fontWeight="bold" fontSize={14} textLength={82} lengthAdjust="spacingAndGlyphs">
        angle [deg]
      </text>

      {/* legend (angle) */}
      <g>
        <rect x={907} y={200} width={85} height={65} rx={3} fill="#fff" fillOpacity={0.85} stroke="#cfcfcf" strokeWidth={1.5} />
        <line x1={910} x2={935} y1={207.3} y2={207.3} stroke={RED} strokeWidth={2} strokeOpacity={0.9} />
        <text x={958.5} y={211.3} textAnchor="middle" fontSize={12}>SE(3)</text>
        <line x1={910} x2={935} y1={222.3} y2={222.3} stroke={BLUE} strokeWidth={2} strokeOpacity={0.9} />
        <text x={963.5} y={225.8} textAnchor="middle" fontSize={9.5}>
          <tspan fontFamily="'DejaVu Serif', serif" fontSize={8.5}>ℝ</tspan>
          <tspan fontSize={6.5} dy={-3.5}>3</tspan>
          <tspan dy={3.5}> ↔ SE(3)</tspan>
        </text>
        <line x1={922} x2={922} y1={230} y2={247} stroke="#222" strokeWidth={1.1} />
        <text x={956.5} y={243} textAnchor="middle" fontSize={11.5}>USBL</text>
        <circle cx={922} cy={254} r={6} fill="none" stroke="#333" strokeOpacity={0.8} strokeWidth={0.9} />
        <text x={958.5} y={257.5} textAnchor="middle" fontSize={11}>optical</text>
      </g>
    </svg>
  );
}
